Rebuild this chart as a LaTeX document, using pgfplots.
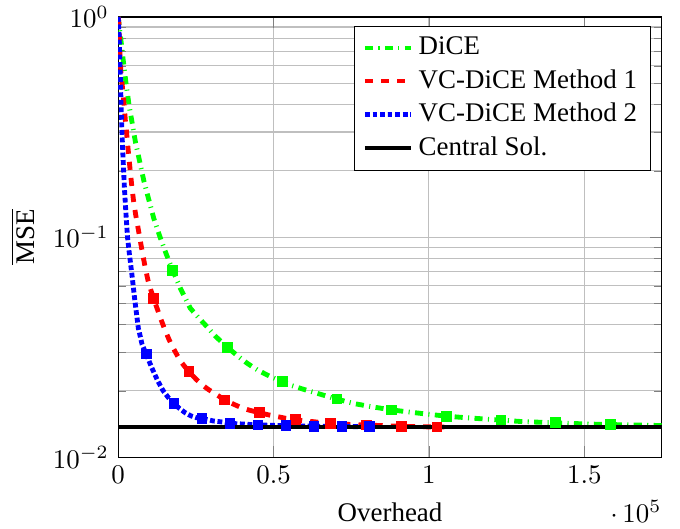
\documentclass[border=0pt]{standalone}
\usepackage{fontspec}
\setmainfont{Liberation Serif}
\usepackage{pgfplots}
\pgfplotsset{compat=1.18}

\begin{document}
\begin{tikzpicture}
  \begin{semilogyaxis}[
      scale only axis,
      width=202pt,
      height=163.5pt,
      xmin=0, xmax=175000,
      ymin=0.01, ymax=1,
      xtick={0,50000,100000,150000},
      grid=both,
      xlabel={Overhead},
      ylabel={$\overline{\mathrm{MSE}}$},
      xtick scale label code/.code={$\cdot\,10^{#1}$},
      every x tick scale label/.style={at={(xticklabel cs:1)}, anchor=north east, inner sep=0pt, yshift=-2.5pt},
      legend cell align=left,
    ]
    % DiCE
    \addplot[green, line width=1.8pt, dash pattern=on 3pt off 2pt on 0.4pt off 2pt] coordinates {
      (0,1.0) (1000,0.76) (1800,0.605) (2600,0.49) (3500,0.398) (4500,0.33)
      (5600,0.268) (7000,0.218) (8300,0.179) (9900,0.147) (11500,0.121)
      (13600,0.0988) (15500,0.0835) (17600,0.0703) (20000,0.0585)
      (23200,0.0475) (26000,0.0428) (28100,0.0398) (31500,0.0352)
      (35200,0.0315) (38500,0.0288) (41500,0.0267) (45000,0.0248)
      (48800,0.0233) (52800,0.0220) (56000,0.0211) (59800,0.0203)
      (64000,0.0195) (70400,0.01835) (76000,0.0175) (82000,0.0169)
      (88000,0.01639) (94000,0.0160) (100000,0.01565) (105600,0.01535)
      (112000,0.0151) (118000,0.0149) (123200,0.01473) (130000,0.0145)
      (136000,0.0144) (140800,0.01432) (146000,0.01422) (152000,0.01413)
      (158400,0.01406) (165000,0.01400) (170000,0.01396) (176000,0.0139)
    };
    \addlegendentry{DiCE}
    \addplot[green, only marks, mark=square*, mark size=1.6pt, mark options={line width=0.8pt}, forget plot] coordinates {
      (17600,0.0703) (35200,0.0315) (52800,0.0220) (70400,0.01835)
      (88000,0.01639) (105600,0.01535) (123200,0.01473) (140800,0.01432)
      (158400,0.01406)
    };
    % VC-DiCE Method 1
    \addplot[red, line width=1.8pt, dash pattern=on 3pt off 3pt] coordinates {
      (0,1.0) (230,0.94) (420,0.78) (600,0.66) (870,0.56) (1400,0.475)
      (1900,0.40) (2300,0.34) (2800,0.288) (3300,0.242) (3800,0.205)
      (4300,0.175) (4900,0.148) (5600,0.127) (6600,0.106) (7600,0.088)
      (8600,0.074) (9600,0.0635) (10500,0.0575) (11400,0.0526)
      (12500,0.0475) (13700,0.0425) (15000,0.0380) (16300,0.0344)
      (17600,0.0315) (19000,0.0290) (20500,0.0268) (22000,0.0252)
      (22800,0.0244) (25200,0.0225) (27000,0.0213) (29000,0.0203)
      (31000,0.0195) (33000,0.0187) (34200,0.0182) (37500,0.0173)
      (40000,0.0167) (42500,0.0163) (45600,0.0159) (48000,0.0156)
      (51000,0.0153) (54000,0.0150) (57000,0.0148) (60000,0.0146)
      (63000,0.01448) (66000,0.0143) (68400,0.0142) (72000,0.01412)
      (76000,0.01405) (79800,0.0140) (84000,0.01392) (88000,0.01385)
      (91200,0.0138) (95000,0.01377) (99000,0.01373) (102600,0.0137)
      (105000,0.0137)
    };
    \addlegendentry{VC-DiCE Method 1}
    \addplot[red, only marks, mark=square*, mark size=1.6pt, mark options={line width=0.8pt}, forget plot] coordinates {
      (11400,0.0526) (22800,0.0244) (34200,0.0182) (45600,0.0159)
      (57000,0.0148) (68400,0.0142) (79800,0.0140) (91200,0.0138)
      (102600,0.0137)
    };
    % VC-DiCE Method 2
    \addplot[blue, line width=1.8pt, dash pattern=on 1.8pt off 1pt] coordinates {
      (0,1.0) (300,0.83) (650,0.56) (1000,0.37) (1300,0.28) (1650,0.215)
      (2000,0.168) (2500,0.128) (3000,0.100) (3600,0.084) (4400,0.068)
      (5400,0.051) (6500,0.0385) (7700,0.0325) (9000,0.0294)
      (10800,0.0255) (12600,0.0224) (14400,0.0201) (16200,0.0186)
      (18000,0.0175) (19800,0.0166) (21600,0.0159) (23400,0.0154)
      (25200,0.0151) (27000,0.0150) (28800,0.0148) (30600,0.0146)
      (32400,0.0145) (34200,0.0144) (36000,0.01423) (39600,0.01415)
      (43200,0.01405) (45000,0.0140) (49500,0.01395) (54000,0.0139)
      (58500,0.01385) (63000,0.01382) (67500,0.0138) (72000,0.01378)
      (76500,0.01376) (81000,0.01375)
    };
    \addlegendentry{VC-DiCE Method 2}
    \addplot[blue, only marks, mark=square*, mark size=1.6pt, mark options={line width=0.8pt}, forget plot] coordinates {
      (9000,0.0294) (18000,0.0175) (27000,0.0150) (36000,0.01423)
      (45000,0.0140) (54000,0.0139) (63000,0.01382) (72000,0.01378)
      (81000,0.01375)
    };
    % Central solution
    \addplot[black, line width=1.8pt] coordinates {
      (0,0.0137) (175000,0.0137)
    };
    \addlegendentry{Central Sol.}
    \coordinate (sw) at (rel axis cs:0,0);
    \coordinate (ne) at (rel axis cs:1,1);
  \end{semilogyaxis}
  \pgfresetboundingbox
  \path[use as bounding box] ([xshift=-43.9pt,yshift=-26.5pt]sw) rectangle ([xshift=6.7pt,yshift=6.3pt]ne);
\end{tikzpicture}
\end{document}
